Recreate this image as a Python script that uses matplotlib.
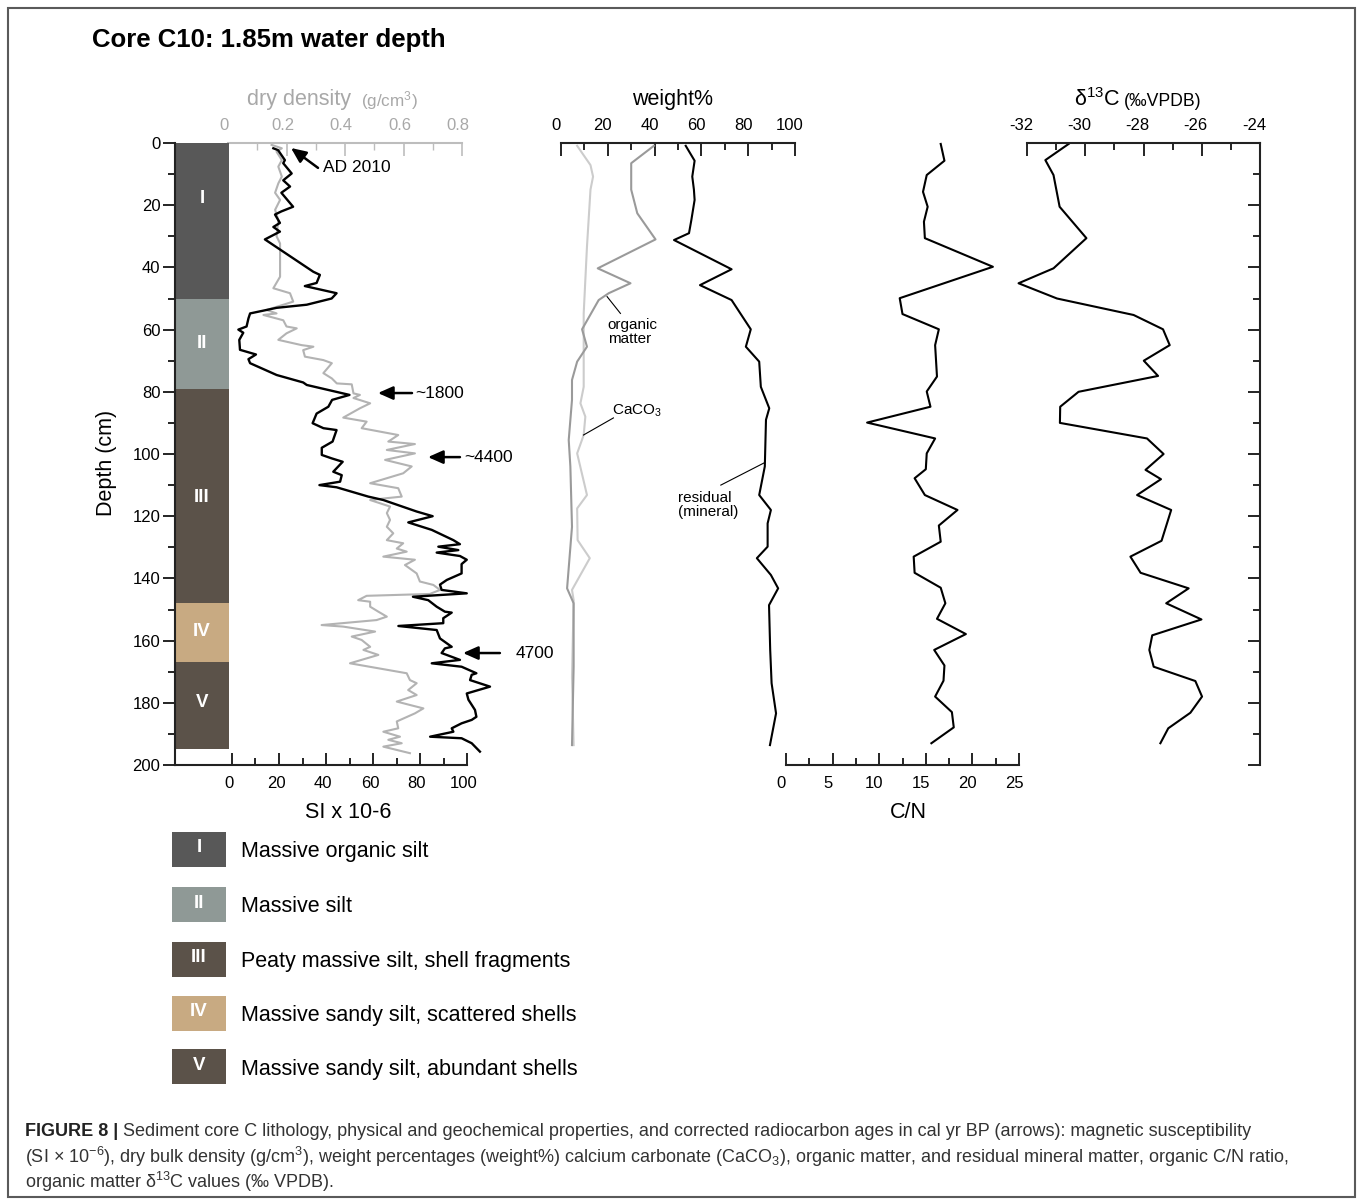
import matplotlib
matplotlib.use("Agg")
import matplotlib.pyplot as plt
from matplotlib.patches import Rectangle
from matplotlib.transforms import ScaledTranslation
import numpy as np

plt.rcParams['font.family'] = ['Liberation Sans', 'DejaVu Sans']
plt.rcParams['mathtext.fontset'] = 'custom'
plt.rcParams['mathtext.rm'] = 'Liberation Sans'
plt.rcParams['mathtext.it'] = 'Liberation Sans'
plt.rcParams['mathtext.bf'] = 'Liberation Sans:bold'
plt.rcParams['axes.unicode_minus'] = False

# ---------------- data ----------------
# magnetic susceptibility (SI x 10-6)
si_depth = [1.7, 2.3, 5.5, 6.5, 9.8, 12, 14, 16, 20.5, 22, 23, 25.7, 27, 28.5, 31,
            41.4, 42.4, 45, 46, 48.3, 50, 52, 53, 54.8, 56.4, 59, 60, 61, 63.3, 66.5,
            68, 69.5, 70.8, 74.6, 77, 77.8, 81, 82.6, 84.8, 87, 90.1, 91.7, 92.3, 96,
            98, 100.3, 101.4, 102.5, 105.7, 106.8, 108.9, 110, 110.7, 113.7, 114.8,
            118.5, 120, 122, 124.4, 127.7, 129, 129.8, 130.9, 131.7, 132.8, 134, 135.4,
            138.4, 140.5, 142, 143.7, 144.8, 145.9, 147, 149.1, 150.7, 151, 152.8,
            154.4, 155.3, 156.6, 159.3, 162, 162.5, 164, 166.2, 167.3, 168.4, 170.5,
            171, 172.7, 174.8, 177, 179, 182.3, 184.5, 185.5, 186.6, 188.2, 189.3,
            190.9, 191.4, 193, 195.7]
si_value = [17.6, 19.6, 22.5, 21.8, 25.4, 21.8, 24.7, 21, 26, 21, 18.3, 20.4, 17.6, 20.4, 14,
            34.6, 37.4, 36, 31, 44.5, 42.4, 31.8, 19, 7.7, 7, 6.2, 2.7, 4.8, 3.1, 3.4,
            10.2, 7, 7.7, 19, 30.3, 31.8, 50, 42.6, 41, 36, 34.3, 38.9, 44.5, 42.8,
            38.2, 38.2, 42.4, 47.1, 43.1, 46.7, 46, 37.2, 44.5, 58, 64.4,
            78.6, 85.4, 75, 85, 94.2, 97, 87.8, 96.3, 87.1, 97, 99.9, 97.7,
            97.7, 91.4, 88.5, 89.2, 99.9, 77, 83.5, 87.1, 90.6, 93.5, 89.9,
            89.9, 70.8, 87.1, 88.5, 93.5, 90.6, 89.2, 97, 85, 97.7, 104,
            102, 101.3, 109.8, 99.9, 100.6, 103.4, 104, 102, 97.7, 93.5, 94.2,
            84.3, 97.7, 102, 105.5]

# dry bulk density (g/cm3)
dens_depth = [0.6, 1.7, 2.8, 5.5, 7.6, 10.8, 13, 16, 18.3, 21.5, 24.8, 30, 32.3, 43, 46.7,
              48.3, 51, 53.7, 54.8, 55.3, 57, 59, 59.6, 61.2, 63.3, 65, 65.5, 66.6, 68.7,
              69.8, 70.8, 74, 75.7, 77.3, 77.6, 80.5, 81, 82, 83.7, 85.3, 88.3, 89.6, 91.7,
              93.9, 96, 96.8, 98.7, 99.8, 101.9, 104, 106.2, 109.4, 111, 113.7, 114.2,
              114.8, 116.9, 119, 121.2, 123.4, 125.5, 127.7, 128.7, 130.4, 131.4, 133,
              134, 135.7, 138.4, 141, 142.1, 143.7, 145, 145.6, 147, 147.5, 149.1, 150.7,
              152.3, 153.4, 155, 155.5, 157.1, 158.7, 159.8, 162, 163, 164.6, 167.3,
              170.5, 172.7, 173.7, 175.9, 177.5, 179.6, 180.7, 181.8, 183.4, 186, 188.2,
              189.3, 190.9, 191.9, 193, 194.1, 196.2]
dens_value = [0.149, 0.184, 0.166, 0.184, 0.172, 0.184, 0.172, 0.161, 0.178, 0.161, 0.172,
              0.166, 0.178, 0.178, 0.155, 0.212, 0.223, 0.132, 0.166, 0.121, 0.189, 0.2,
              0.235, 0.2, 0.172, 0.252, 0.292, 0.257, 0.263, 0.326, 0.355, 0.326, 0.355,
              0.372, 0.423, 0.429, 0.451, 0.429, 0.486, 0.451, 0.394, 0.474, 0.457,
              0.582, 0.548, 0.639, 0.543, 0.639, 0.537, 0.628, 0.599, 0.486, 0.582, 0.594,
              0.543, 0.486, 0.554, 0.543, 0.554, 0.543, 0.565, 0.543, 0.599, 0.577, 0.611,
              0.531, 0.639, 0.605, 0.645, 0.656, 0.702, 0.725, 0.69, 0.474, 0.445, 0.486,
              0.486, 0.514, 0.543, 0.508, 0.32, 0.394, 0.503, 0.423, 0.457, 0.486, 0.463,
              0.514, 0.417, 0.611, 0.622, 0.645, 0.616, 0.645, 0.577, 0.622, 0.668,
              0.639, 0.577, 0.582, 0.531, 0.588, 0.548, 0.594, 0.531, 0.622]

# weight% : residual mineral matter, organic matter, CaCO3
resid_depth = [0.9, 5.7, 10.8, 15, 18.3, 24.8, 29, 31.2, 40.6, 45.7, 50.5, 59.9, 65.5, 70.3,
               78.4, 85.3, 89, 104, 113.2, 118, 122.3, 129.8, 133.5, 138.9, 143.2, 148.6,
               163, 173.7, 183.4, 193.6]
resid_value = [53.3, 57.1, 56.1, 56.8, 57.1, 55.7, 54.7, 48.3, 72.9, 59.4, 72.9, 81.1, 79,
               84.7, 85.4, 89, 87.6, 87.1, 84.7, 89.7, 88.3, 88.3, 83.7, 89.7, 92.8, 88.9,
               89.4, 90, 91.9, 89.3]
org_depth = [0.9, 6.5, 15, 22.6, 31, 40.3, 45.1, 48.3, 50.5, 59.9, 65.5, 70.3, 76.2, 82.6,
             95.5, 104, 123.4, 143.2, 148, 168.4, 193.6]
org_value = [39.7, 30, 30, 32.6, 40.4, 15.7, 29.7, 20.4, 16.1, 9, 11.1, 6.9, 4.7, 4.7,
             3.3, 4, 4.7, 2.6, 5.4, 5.4, 4.7]
caco3_depth = [0.9, 7.1, 10.8, 15, 33.3, 54.8, 78.4, 83.7, 88, 93.9, 99.8, 113.2, 117.5,
               127.7, 133.5, 143.7, 147, 171.6, 193.6]
caco3_value = [6.9, 12.6, 13.7, 12.6, 11.1, 9.7, 9.7, 8.3, 10.4, 9.7, 6.9, 11.1, 6.9,
               7.1, 12.3, 4.7, 5.4, 4.7, 5.4]

# organic C/N ratio
cn_depth = [0.3, 5.7, 10.3, 15.7, 20.5, 25.3, 30.6, 39.8, 49.9, 55, 59.9, 65, 75.1, 79.9,
            84.8, 89.9, 95, 99.8, 104.9, 107.8, 113.2, 118, 123, 128.2, 133, 138.2, 143,
            148, 153, 157.9, 163, 168, 172.9, 178, 183, 187.9, 193]
cn_value = [16.6, 17, 15.1, 14.7, 15.2, 14.8, 14.9, 22.2, 12.2, 12.5, 16.4, 16, 16.2, 15.1,
            15.5, 8.7, 16, 15.1, 15, 13.8, 14.9, 18.4, 16.4, 16.6, 13.7, 13.8, 16.6,
            17.1, 16.2, 19.3, 15.9, 17, 16.9, 16, 17.8, 18, 15.6]

# organic matter d13C (permil VPDB)
d13c_depth = [0.3, 5.5, 10.3, 20.5, 30.6, 40.3, 45.1, 50, 55.3, 59.9, 65, 70, 74.9, 80, 84.8,
              90, 95, 100, 105.1, 108.1, 113.2, 118, 127.9, 133, 138.2, 143.2, 148, 153.2,
              158.3, 163, 168.4, 173, 178, 183.2, 188.2, 193]
d13c_value = [-30.57, -31.37, -31.09, -30.88, -29.96, -31.09, -32.29, -30.97, -28.34, -27.33,
              -27.1, -27.99, -27.5, -30.23, -30.86, -30.87, -27.88, -27.31, -27.93, -27.4,
              -28.22, -27.05, -27.38, -28.45, -28.1, -26.45, -27.22, -26.01, -27.7, -27.8,
              -27.65, -26.22, -25.99, -26.39, -27.15, -27.42]

# lithological units
unit_names = ["I", "II", "III", "IV", "V"]
unit_top = [0, 50, 79, 148, 167]
unit_bottom = [50, 79, 148, 167, 195]
unit_label_depth = [18, 64.5, 114, 157, 180]
unit_colors = ["#585858", "#8f9996", "#5b5249", "#c8aa82", "#5b5249"]
unit_desc = ["Massive organic silt", "Massive silt", "Peaty massive silt, shell fragments",
             "Massive sandy silt, scattered shells", "Massive sandy silt, abundant shells"]

# radiocarbon ages (depth of the dated level)
age_labels = ["AD 2010", "~1800", "~4400", "4700"]
age_depth = [1.6, 80.4, 101, 164]

# ---------------- layout helpers ----------------
W, H = 1358, 1199
fig = plt.figure(figsize=(W / 100, H / 100), dpi=100)


def px_axes(l, t, r, b):
    return fig.add_axes([l / W, 1 - b / H, (r - l) / W, (b - t) / H])


def shift_xlabels(axis, dx_px=-4):
    off = ScaledTranslation(dx_px / 100, 0, fig.dpi_scale_trans)
    for lab in axis.xaxis.get_majorticklabels():
        lab.set_transform(lab.get_transform() + off)


DEPTH_LIM = (200, 0)
TOP, BOT = 143, 765
LBL = 12
AXLBL = 15.5
MAJ, MIN = 9, 5


def bare(ax):
    ax.patch.set_visible(False)
    for s in ax.spines.values():
        s.set_visible(False)
    ax.set_ylim(*DEPTH_LIM)


# ---------- panel 1: dry density (behind) + magnetic susceptibility ----------
axd = px_axes(228, TOP, 462, BOT)
bare(axd)
axd.set_xlim(0, 0.8)
axd.spines['top'].set_visible(True)
axd.spines['top'].set_color('#bdbdbd')
axd.spines['top'].set_linewidth(1.5)
axd.xaxis.tick_top()
axd.set_xticks([0, 0.2, 0.4, 0.6, 0.8])
axd.set_xticklabels(["0", "0.2", "0.4", "0.6", "0.8"])
axd.set_xticks(np.arange(0.1, 0.8, 0.2), minor=True)
axd.tick_params(axis='x', which='both', direction='in', colors='#bdbdbd',
                labelcolor='#a8a8a8', labelsize=LBL, pad=7)
axd.tick_params(axis='x', which='major', length=MAJ, width=1.2)
axd.tick_params(axis='x', which='minor', length=MIN, width=1.0)
axd.set_yticks([])
axd.plot(dens_value, dens_depth, color='#b3b3b3', lw=1.5, clip_on=False)
shift_xlabels(axd)

ax = px_axes(175, TOP, 467, BOT)
ax.patch.set_visible(False)
ax.set_ylim(*DEPTH_LIM)
ax.set_xlim(-(232 - 175) / 2.35, 100)
ax.spines['top'].set_visible(False)
ax.spines['right'].set_visible(False)
for s in ('left', 'bottom'):
    ax.spines[s].set_linewidth(1.5)
    ax.spines[s].set_color('#222222')
ax.set_yticks(np.arange(0, 201, 20))
ax.set_yticks(np.arange(10, 200, 20), minor=True)
ax.tick_params(axis='y', which='both', direction='out', labelsize=LBL, pad=1.5, width=1.2)
ax.tick_params(axis='y', which='major', length=MAJ)
ax.tick_params(axis='y', which='minor', length=MIN)
ax.set_xticks(np.arange(0, 101, 20))
ax.set_xticks(np.arange(10, 100, 20), minor=True)
ax.tick_params(axis='x', which='both', direction='in', labelsize=LBL, pad=8, width=1.2)
ax.tick_params(axis='x', which='major', length=MAJ)
ax.tick_params(axis='x', which='minor', length=MIN)
shift_xlabels(ax, -3)
ax.set_ylabel("Depth (cm)", fontsize=AXLBL)
ax.yaxis.set_label_coords((107 - 175) / 292, (765 - 463) / 622)
ax.yaxis.label.set_va('center')
ax.set_xlabel("SI x 10-6", fontsize=AXLBL)
ax.xaxis.set_label_coords((348 - 175) / 292, (765 - 813) / 622)
ax.xaxis.label.set_va('center')

# lithology column
col_tf = ax.get_yaxis_transform()
col_w = (229 - 175) / 292
for name, top, bot, lab_d, col in zip(unit_names, unit_top, unit_bottom,
                                      unit_label_depth, unit_colors):
    ax.add_patch(Rectangle((0, top), col_w, bot - top, transform=col_tf,
                           facecolor=col, edgecolor='none', zorder=1, clip_on=False))
    ax.text(col_w / 2, lab_d, name, transform=col_tf, color='white', fontsize=13.5,
            fontweight='bold', ha='center', va='center', zorder=2)

ax.plot(si_value, si_depth, color='black', lw=1.7, clip_on=False, zorder=3)

# age arrows
arrow_tip_si = [25.1, 62.1, 83.4, 98.3]
arrow_tail_si = [36.6, 76.6, 97.0, 114.0]
arrow_tail_depth = [8.0, 80.4, 101, 164]
text_si = [38.7, 78.0, 98.8, 120.5]
for lab, d, x0, x1, d1, xt in zip(age_labels, age_depth, arrow_tip_si, arrow_tail_si,
                                   arrow_tail_depth, text_si):
    ax.annotate("", xy=(x0, d), xytext=(x1, d1),
                arrowprops=dict(arrowstyle='-|>,head_length=0.9,head_width=0.4',
                                color='black', lw=1.8, shrinkA=0, shrinkB=0),
                annotation_clip=False, zorder=4)
    ax.text(xt, d1, lab, fontsize=12.5, ha='left', va='center', clip_on=False)

# ---------- panel 2: weight% ----------
axw = px_axes(561, TOP, 795, BOT)
bare(axw)
axw.set_xlim(0, 100)
axw.spines['top'].set_visible(True)
axw.spines['top'].set_linewidth(1.5)
axw.spines['top'].set_color('#222222')
axw.xaxis.tick_top()
axw.set_xticks(np.arange(0, 101, 20))
axw.set_xticks(np.arange(10, 100, 20), minor=True)
axw.tick_params(axis='x', which='both', direction='in', labelsize=LBL, pad=7, width=1.2)
axw.tick_params(axis='x', which='major', length=MAJ)
axw.tick_params(axis='x', which='minor', length=MIN)
axw.set_yticks([])
shift_xlabels(axw, -5)
axw.plot(caco3_value, caco3_depth, color='#cccccc', lw=1.5, clip_on=False)
axw.plot(org_value, org_depth, color='#9a9a9a', lw=1.5, clip_on=False)
axw.plot(resid_value, resid_depth, color='black', lw=1.5, clip_on=False)
# series labels with leaders
axw.plot([19.7, 25.4], [49.4, 54.8], color='black', lw=0.8)
axw.text(20.0, 56.2, "organic\nmatter", fontsize=11, ha='left', va='top', linespacing=1.0)
axw.plot([9.6, 22.4], [93.9, 88.4], color='black', lw=0.8)
axw.text(21.8, 86.2, "CaCO$_3$", fontsize=11, ha='left', va='center')
axw.plot([68.3, 86.7], [110.0, 102.9], color='black', lw=0.8)
axw.text(50.0, 111.8, "residual\n(mineral)", fontsize=11, ha='left', va='top', linespacing=1.0)

# ---------- panel 3: C/N ----------
axc = px_axes(786, TOP, 1019, BOT)
bare(axc)
axc.set_xlim(0, 25)
axc.spines['bottom'].set_visible(True)
axc.spines['bottom'].set_linewidth(1.5)
axc.spines['bottom'].set_color('#222222')
axc.set_xticks(np.arange(0, 26, 5))
axc.set_xticks(np.arange(2.5, 25, 5), minor=True)
axc.tick_params(axis='x', which='both', direction='in', labelsize=LBL, pad=8, width=1.2)
axc.tick_params(axis='x', which='major', length=MAJ)
axc.tick_params(axis='x', which='minor', length=MIN)
axc.set_yticks([])
shift_xlabels(axc, -5)
axc.set_xlabel("C/N", fontsize=AXLBL)
axc.xaxis.set_label_coords((908 - 786) / 233, (765 - 813) / 622)
axc.xaxis.label.set_va('center')
axc.plot(cn_value, cn_depth, color='black', lw=1.5, clip_on=False)

# ---------- panel 4: d13C ----------
axi = px_axes(1027, TOP, 1260, BOT)
bare(axi)
axi.set_xlim(-32, -24)
for s in ('top', 'right'):
    axi.spines[s].set_visible(True)
    axi.spines[s].set_linewidth(1.5)
    axi.spines[s].set_color('#222222')
axi.xaxis.tick_top()
axi.set_xticks(np.arange(-32, -23, 2))
axi.set_xticks(np.arange(-31, -24, 2), minor=True)
axi.tick_params(axis='x', which='both', direction='in', labelsize=LBL, pad=7, width=1.2)
axi.tick_params(axis='x', which='major', length=MAJ)
axi.tick_params(axis='x', which='minor', length=MIN)
shift_xlabels(axi, -6)
axi.yaxis.tick_right()
axi.set_yticks(np.arange(0, 201, 20))
axi.set_yticks(np.arange(10, 200, 20), minor=True)
axi.tick_params(axis='y', which='both', direction='in', labelright=False, width=1.2)
axi.tick_params(axis='y', which='major', length=MAJ)
axi.tick_params(axis='y', which='minor', length=MIN)
axi.plot(d13c_value, d13c_depth, color='black', lw=1.5, clip_on=False)

# ---------- figure-level text, legend, frame ----------
ov = fig.add_axes([0, 0, 1, 1])
ov.set_xlim(0, W)
ov.set_ylim(H, 0)
ov.axis('off')
ov.patch.set_visible(False)

ov.add_patch(Rectangle((8, 8), 1347, 1189, facecolor='none', edgecolor='#5a5a5a', lw=1.5))
ov.text(92, 40, "Core C10: 1.85m water depth", fontsize=18.5, fontweight='bold',
        ha='left', va='center')

ov.text(357, 100, "dry density ", fontsize=AXLBL, color='#a8a8a8', ha='right', va='center')
ov.text(361, 101, "(g/cm$^3$)", fontsize=12.3, color='#a8a8a8', ha='left', va='center')
ov.text(673, 100, "weight%", fontsize=AXLBL, ha='center', va='center')
ov.text(1120, 100, "δ$^{13}$C", fontsize=AXLBL, ha='right', va='center')
ov.text(1124, 101, "(‰VPDB)", fontsize=12.7, ha='left', va='center')

leg_top = [832, 887, 942, 996, 1049]
for name, col, desc, yt in zip(unit_names, unit_colors, unit_desc, leg_top):
    ov.add_patch(Rectangle((172, yt), 54, 35, facecolor=col, edgecolor='none'))
    ov.text(199, yt + 16, name, color='white', fontsize=13.5, fontweight='bold',
            ha='center', va='center')
    ov.text(241, yt + 20, desc, fontsize=15.5, ha='left', va='center')

cap_size = 13
renderer = fig.canvas.get_renderer()
t0 = ov.text(25, 1132, "FIGURE 8 |", fontsize=cap_size, fontweight='bold',
             ha='left', va='center', color='#222222')
x_after = t0.get_window_extent(renderer).x1
ov.text(x_after, 1132, " Sediment core C lithology, physical and geochemical properties, and "
        "corrected radiocarbon ages in cal yr BP (arrows): magnetic susceptibility",
        fontsize=cap_size, ha='left', va='center', color='#333333')
ov.text(25, 1157, "(SI $\\times$ 10$^{-6}$), dry bulk density (g/cm$^3$), weight percentages "
        "(weight%) calcium carbonate (CaCO$_3$), organic matter, and residual mineral matter, "
        "organic C/N ratio,", fontsize=cap_size, ha='left', va='center', color='#333333')
ov.text(25, 1182, "organic matter δ$^{13}$C values (‰ VPDB).", fontsize=cap_size,
        ha='left', va='center', color='#333333')

fig.savefig("out.png", dpi=100)
